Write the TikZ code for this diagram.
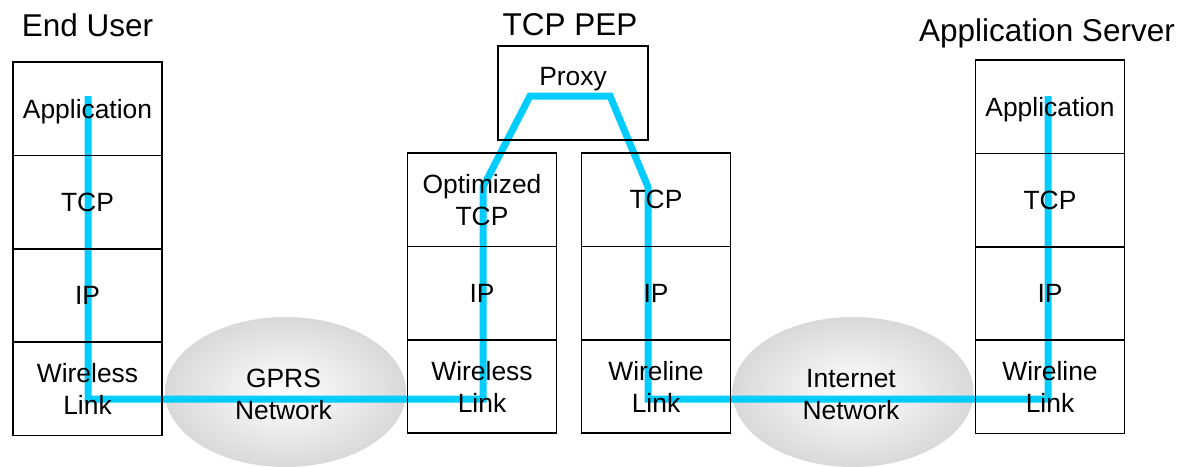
\documentclass[tikz,border=0pt]{standalone}
\usepackage{fontspec}
\setmainfont{Liberation Sans}
\usepackage{xcolor}
\usepackage{tikz}
\usetikzlibrary{shapes.geometric,positioning,calc,backgrounds}
\definecolor{routeblue}{RGB}{0,204,255}
\newcommand{\lblfont}{\fontsize{26.4}{32}\selectfont}
\newcommand{\ttlfont}{\fontsize{31.5}{36}\selectfont}
\pgfdeclarelayer{clouds}
\pgfsetlayers{clouds,background,main}

\begin{document}
\begin{tikzpicture}[x=1pt, y=-1pt,
  layer/.style={rectangle, draw=black, line width=1.6pt, minimum width=149pt, minimum height=93.4pt, inner sep=0pt, outer sep=0pt, align=center, text depth=0pt, font=\lblfont},
  netcloud/.style={ellipse, minimum width=241pt, minimum height=150pt, inner sep=0pt, inner color=white, outer color=black!15},
  netlabel/.style={inner sep=0pt, align=center, text depth=0pt, font=\lblfont},
  ttl/.style={anchor=base, inner sep=0pt, font=\ttlfont},
  flow/.style={routeblue, line width=7pt, line join=miter},
]
\useasboundingbox (0,0) rectangle (1182,466);

% Nodes
\node[layer] (euapp) at (87.5,108.75) {Application};
\node[layer, below=0pt of euapp] (eutcp) {TCP};
\node[layer, below=0pt of eutcp] (euip) {IP};
\node[layer, below=0pt of euip] (eulink) {Wireless\\Link};

\node[layer, minimum height=94pt, minimum width=150pt] (proxy) at (573,93) {};
\node[netlabel, below=21pt of proxy.north] (proxytext) {Proxy};

\node[layer] (opttcp) at (482,199.7) {Optimized\\TCP};
\node[layer, below=0pt of opttcp] (optip) {IP};
\node[layer, below=0pt of optip] (optlink) {Wireless\\Link};

\node[layer] (wtcp) at (656,199.7) {TCP};
\node[layer, below=0pt of wtcp] (wip) {IP};
\node[layer, below=0pt of wip] (wlink) {Wireline\\Link};

\node[layer] (srvapp) at (1050,106.7) {Application};
\node[layer, below=0pt of srvapp] (srvtcp) {TCP};
\node[layer, below=0pt of srvtcp] (srvip) {IP};
\node[layer, below=0pt of srvip] (srvlink) {Wireline\\Link};

% Networks
\begin{pgfonlayer}{clouds}
\node[netcloud] (gprs) at (285.5,392) {};
\node[netcloud] (inet) at (853,392) {};
\end{pgfonlayer}
\node[netlabel] (gprstext) at ([xshift=-2pt, yshift=-2pt]gprs.center) {GPRS\\Network};
\node[netlabel] (inettext) at ([xshift=-2pt, yshift=-2pt]inet.center) {Internet\\Network};

% Text labels
\node[ttl] (euttl) at (87.5,36.7) {End User};
\node[ttl] (pepttl) at (570,35) {TCP PEP};
\node[ttl] (srvttl) at (1047,41.5) {Application Server};

% Route
\begin{scope}[on background layer]
\coordinate (bus) at (0,399);
\coordinate (eutop) at ([xshift=0.5pt, yshift=12.75pt]euapp.center);
\coordinate (optbend) at ([xshift=1pt, yshift=12.7pt]opttcp.center);
\coordinate (pxl) at ([xshift=-43pt, yshift=-3pt]proxy.center);
\coordinate (pxr) at ([xshift=37pt, yshift=-3pt]proxy.center);
\coordinate (wbend) at ([xshift=-8pt, yshift=12.7pt]wtcp.center);
\coordinate (srvtop) at ([xshift=-2pt, yshift=10.7pt]srvapp.center);

\draw[flow] (eutop) -- (eutop |- bus) -- (optbend |- bus) -- (optbend) -- (pxl) -- (pxr)
  -- (wbend) -- (wbend |- bus) -- (srvtop |- bus) -- (srvtop);
\end{scope}

\end{tikzpicture}
\end{document}
